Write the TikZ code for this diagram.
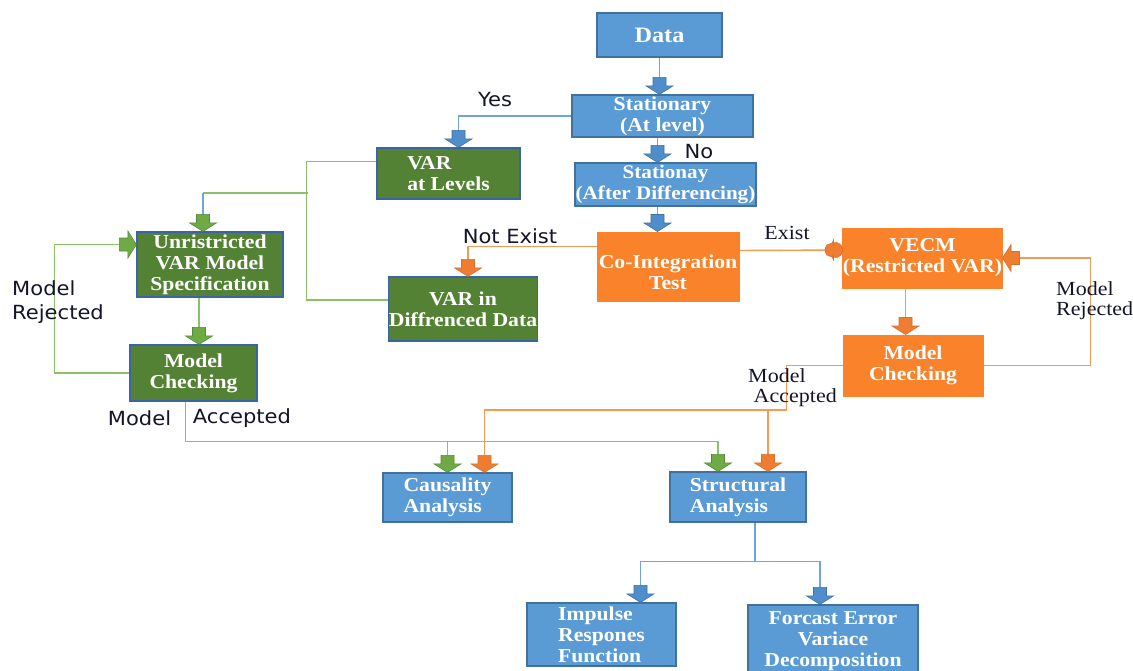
\documentclass[tikz,border=0pt]{standalone}
\usepackage{fontspec}
\usetikzlibrary{calc}
\newfontfamily\boxfont{Liberation Serif}[FakeStretch=1.1]
\newfontfamily\labsans{DejaVu Sans}[FakeStretch=1.08]
\newfontfamily\labserif{Liberation Serif}[FakeStretch=1.1]
\definecolor{blueF}{HTML}{5B9BD5}
\definecolor{blueD}{HTML}{41719C}
\definecolor{blueL}{HTML}{6FA5DA}
\definecolor{blueA}{HTML}{4F8DCB}
\definecolor{greenF}{HTML}{548235}
\definecolor{greenD}{HTML}{3A63A8}
\definecolor{greenL}{HTML}{8CC168}
\definecolor{greenA}{HTML}{6EAB45}
\definecolor{orangeF}{HTML}{F9822A}
\definecolor{orangeL}{HTML}{F39A55}
\definecolor{orangeA}{HTML}{EE7D31}
\definecolor{labC}{HTML}{15152A}
\tikzset{
  box/.style={rectangle, inner sep=0pt, align=center, text=white,
    font=\boxfont\bfseries\fontsize{19.7}{21}\selectfont},
  bluebox/.style={box, fill=blueF, draw=blueD, line width=1.2pt},
  greenbox/.style={box, fill=greenF, draw=greenD, line width=1.2pt},
  orangebox/.style={box, fill=orangeF, draw=orangeF, line width=1pt},
  bline/.style={draw=blueL, line width=1.4pt},
  gline/.style={draw=greenL, line width=1.4pt},
  oline/.style={draw=orangeL, line width=1.4pt},
  barrow/.style={fill=blueA, draw=blueD, line width=0.6pt},
  garrow/.style={fill=greenA, draw=greenA!80!black, line width=0.6pt},
  oarrow/.style={fill=orangeA, draw=orangeA!90!black, line width=0.6pt},
  sanslab/.style={inner sep=0pt, text=labC, align=left,
    font=\labsans\fontsize{19.5}{24}\selectfont},
  seriflab/.style={inner sep=0pt, text=labC, align=left,
    font=\labserif\fontsize{20}{20}\selectfont},
  adown/.pic={\path[pic actions] (-6.5,-17)--(6.5,-17)--(6.5,-8.5)--(13.5,-8.5)--(0,0)--(-13.5,-8.5)--(-6.5,-8.5)--cycle;},
  aright/.pic={\path[pic actions] (-17,-6.5)--(-17,6.5)--(-8.5,6.5)--(-8.5,13.5)--(0,0)--(-8.5,-13.5)--(-8.5,-6.5)--cycle;},
  aleft/.pic={\path[pic actions] (17,-6.5)--(17,6.5)--(8.5,6.5)--(8.5,13.5)--(0,0)--(8.5,-13.5)--(8.5,-6.5)--cycle;},
  ablob/.pic={\path[pic actions, rounded corners=4pt] (-17,-6)--(-17,6)--(-9,6)--(-9,9)--(0,5)--(0,-5)--(-9,-9)--(-9,-6)--cycle;},
}
\begin{document}
\begin{tikzpicture}[x=1pt,y=-1pt]
\useasboundingbox (0,0) rectangle (1133,670);
\clip (0,0) rectangle (1133,670);
\fill[white] (0,0) rectangle (1133,670);

% boxes
\node[bluebox, minimum width=125, minimum height=44, font=\boxfont\bfseries\fontsize{22}{24}\selectfont] (data) at (659.5,35) {Data};
\node[bluebox, minimum width=181, minimum height=42] (stat) at (662.5,116) {Stationary\\(At level)};
\node[bluebox, minimum width=181, minimum height=43, font=\boxfont\bfseries\fontsize{19.2}{21}\selectfont] (stat2) at (665.5,184.5) {Stationay\\(After Differencing)};
\node[greenbox, minimum width=143, minimum height=51, align=left] (varl) at (448.5,173.5) {VAR\\at Levels};
\node[orangebox, minimum width=142, minimum height=69] (coint) at (668,266.5) {\rule{0pt}{26pt}Co-Integration\\Test};
\node[orangebox, minimum width=145, minimum height=60] (vecm) at (922.5,258) {VECM\\(Restricted VAR)};
\node[greenbox, minimum width=146, minimum height=65] (unr) at (210,264.5) {Unristricted\\VAR Model\\Specification};
\node[greenbox, minimum width=127, minimum height=56] (mc1) at (193.5,373) {Model\\Checking};
\node[greenbox, minimum width=146, minimum height=64] (vard) at (463,309) {VAR in\\Diffrenced Data};
\node[orangebox, minimum width=140, minimum height=61] (mc2) at (913,365.5) {Model\\Checking};
\node[bluebox, minimum width=129, minimum height=49, align=left] (caus) at (447.5,497.5) {Causality\\Analysis};
\node[bluebox, minimum width=136, minimum height=50, align=left] (struct) at (738,497) {Structural\\Analysis};
\node[bluebox, minimum width=149, minimum height=63, align=left] (imp) at (601.5,634.5) {Impulse\\Respones\\Function};
\node[bluebox, minimum width=170, minimum height=73] (forc) at (833,641.5) {Forcast Error\\Variace\\Decomposition};

% blue connectors
\draw[bline] (data.south) -- (data.south |- stat.north);
\pic[barrow] at (data.south |- stat.north) {adown};
\draw[bline] ($(stat.south)+(-5,0)$) -- ($(stat.south |- stat2.north)+(-5,0)$);
\pic[barrow] at ($(stat.south |- stat2.north)+(-5,0)$) {adown};
\draw[bline] ($(stat2.south)+(-8,0)$) -- ($(stat2.south |- coint.north)+(-8,0)$);
\pic[barrow] at ($(stat2.south |- coint.north)+(-8,0)$) {adown};
\draw[bline] (stat.west) -| ($(varl.north)+(10,0)$);
\pic[barrow] at ($(varl.north)+(10,0)$) {adown};

% green connectors
\coordinate (j1) at (308,193);
\coordinate (j2) at (203,193);
\draw[gline] ($(varl.west)+(0,-12)$) -| ($(vard.west)+(-82,-9)$) -- ($(vard.west)+(0,-9)$);
\draw[gline] (j1) -- (j2);
\draw[bline] (j2) -- ($(unr.north)+(-7,-14)$);
\draw[gline] ($(unr.north)+(-7,-14)$) -- ($(unr.north)+(-7,0)$);
\pic[garrow] at ($(unr.north)+(-7,0)$) {adown};
\draw[gline] ($(unr.south)+(-11,0)$) -- ($(unr.south |- mc1.north)+(-11,0)$);
\pic[garrow] at ($(unr.south |- mc1.north)+(-11,0)$) {adown};
\draw[gline] (mc1.west) -- ++(-75,0) |- ($(unr.west)+(0,-20)$);
\pic[garrow] at ($(unr.west)+(0,-20)$) {aright};
\draw[gline] ($(mc1.south)+(-8,0)$) |- ($(struct.north)+(-20,-30)$) -- ($(struct.north)+(-20,0)$);
\draw[gline] ($(caus.north)+(0,-30)$) -- (caus.north);
\pic[garrow] at (caus.north) {adown};
\pic[garrow] at ($(struct.north)+(-20,0)$) {adown};

% orange connectors
\draw[oline] ($(coint.west)+(0,-20)$) -| ($(vard.north)+(5,0)$);
\pic[oarrow] at ($(vard.north)+(5,0)$) {adown};
\draw[oline] ($(coint.east)+(0,-16)$) -- ($(vecm.west)+(0,-8)$);
\pic[oarrow] at ($(vecm.west)+(0,-8)$) {ablob};
\draw[oline] ($(vecm.south)+(-17,0)$) -- ($(vecm.south |- mc2.north)+(-17,0)$);
\pic[oarrow] at ($(vecm.south |- mc2.north)+(-17,0)$) {adown};
\draw[oline] (mc2.east) -- ++(107,0) |- (vecm.east);
\pic[oarrow] at (vecm.east) {aleft};
\draw[oline] (mc2.west) -| ($(mc2.west)+(-56,44.5)$) -| ($(caus.north)+(37,0)$);
\draw[oline] ($(struct.north)+(30,-62)$) -- ($(struct.north)+(30,0)$);
\pic[oarrow] at ($(caus.north)+(37,0)$) {adown};
\pic[oarrow] at ($(struct.north)+(30,0)$) {adown};

% structural to outputs
\draw[bline] ($(struct.south)+(17,0)$) -- ++(0,39) -| ($(imp.north)+(39,0)$);
\draw[bline] ($(struct.south)+(17,39)$) -| ($(forc.north)+(-13,0)$);
\pic[barrow] at ($(imp.north)+(39,0)$) {adown};
\pic[barrow] at ($(forc.north)+(-13,0)$) {adown};

% labels
\node[sanslab] (lyes) at (495,100) {Yes};
\node[sanslab] (lno) at (699,152) {No};
\node[sanslab] (lnot) at (510,236) {Not Exist};
\node[seriflab] (lex) at (787,233) {Exist};
\node[sanslab, anchor=west] (lrej1) at (12,302) {Model\\Rejected};
\node[sanslab] (lacc1a) at (139.5,418) {Model};
\node[sanslab] (lacc1b) at (242,418) {Accepted};
\node[seriflab, anchor=west] (lrej2) at (1056,301) {Model\\Rejected};
\node[seriflab, anchor=west] (lacc2) at (748,388) {Model\\\ Accepted};
\end{tikzpicture}
\end{document}
